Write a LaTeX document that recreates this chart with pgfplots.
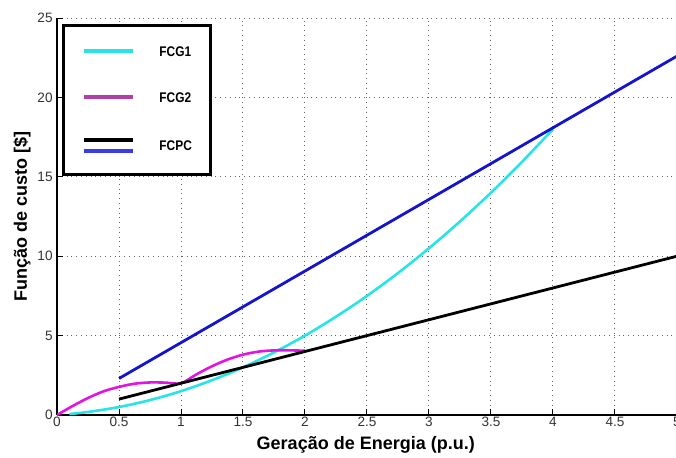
\documentclass[border=0pt]{standalone}
\usepackage{pgfplots}
\pgfplotsset{compat=1.18}
\usepackage{fontspec}
\setmainfont{Liberation Sans}
\newfontfamily\narrowfont[FakeStretch=0.85]{Liberation Sans}
\definecolor{cfcg1}{RGB}{40,228,228}
\definecolor{cfcg2}{RGB}{225,20,225}
\definecolor{cfcg2leg}{RGB}{176,64,168}
\definecolor{cblue}{RGB}{20,20,205}
\definecolor{cblueleg}{RGB}{60,60,230}
\begin{document}
\begin{tikzpicture}
\begin{axis}[
  at={(28.5pt,21pt)}, anchor=south west,
  scale only axis, width=310pt, height=198.5pt,
  xmin=0, xmax=5, ymin=0, ymax=25,
  axis x line*=bottom, axis y line*=left,
  axis line style={black, line width=0.6pt},
  xtick={0,0.5,1,1.5,2,2.5,3,3.5,4,4.5,5},
  ytick={0,5,10,15,20,25},
  grid=major,
  major grid style={dotted, black!60, line width=0.5pt},
  tick align=inside, major tick length=3pt,
  tick style={black, line width=0.5pt},
  /pgf/number format/assume math mode=true,
  tick label style={font=\fontsize{6.8}{7}\selectfont, text=black!80},
  xticklabel style={inner sep=1pt},
  yticklabel style={inner sep=2pt},
  xlabel={\textbf{Geração de Energia (p.u.)}},
  ylabel={\textbf{Função de custo [\$]}},
  label style={font=\fontsize{9}{10}\selectfont},
  xlabel style={at={(rel axis cs:0.498,-0.0756)}, anchor=center},
  ylabel style={at={(rel axis cs:-0.0565,0.5)}, anchor=center},
  legend style={at={(rel axis cs:0.008,0.985)}, anchor=north west,
    draw=black, line width=1.5pt, fill=white,
    inner xsep=9.5pt, inner ysep=10.5pt,
    row sep=18pt,
    nodes={inner sep=0pt, text height=5pt, text depth=0pt,
      font=\narrowfont\bfseries\fontsize{7}{8}\selectfont},
    /tikz/every odd column/.append style={column sep=12pt}},
  legend cell align=left,
]
\addplot[cfcg1, line width=1.3pt, smooth,
  legend image code/.code={\draw[cfcg1, line width=2pt] (0pt,0pt) -- (24.5pt,0pt);}]
  coordinates {(0.1,0.06) (0.25,0.19) (0.5,0.5) (0.75,0.94) (1,1.5) (1.25,2.19)
  (1.5,3.0) (1.75,3.94) (2,5.0) (2.25,6.19) (2.5,7.5) (2.75,8.94) (3,10.5)
  (3.25,12.19) (3.5,14.0) (3.75,15.94) (4,18.0)};
\addlegendentry{FCG1}
\addplot[cfcg2, line width=1.3pt, smooth,
  legend image code/.code={\draw[cfcg2leg, line width=2pt] (0pt,0pt) -- (24.5pt,0pt);}]
  coordinates {(0,0) (0.125,0.56) (0.25,1.07) (0.375,1.49) (0.5,1.77) (0.625,1.97)
  (0.75,2.05) (0.875,2.04) (1,2.0) (1.125,2.56) (1.25,3.07) (1.375,3.49) (1.5,3.8)
  (1.625,3.99) (1.75,4.07) (1.875,4.07) (2,4.05)};
\addlegendentry{FCG2}
\addplot[cblue, line width=1.4pt, forget plot] coordinates {(0.5,2.3) (5,22.6)};
\addplot[black, line width=1.4pt,
  legend image code/.code={
    \draw[black, line width=2pt] (0pt,2.75pt) -- (24.5pt,2.75pt);
    \draw[cblueleg, line width=2pt] (0pt,-2.75pt) -- (24.5pt,-2.75pt);}]
  coordinates {(0.5,1) (5,10)};
\addlegendentry{FCPC}
\end{axis}
\pgfresetboundingbox
\useasboundingbox (0,0) rectangle (338pt,228.5pt);
\end{tikzpicture}
\end{document}
